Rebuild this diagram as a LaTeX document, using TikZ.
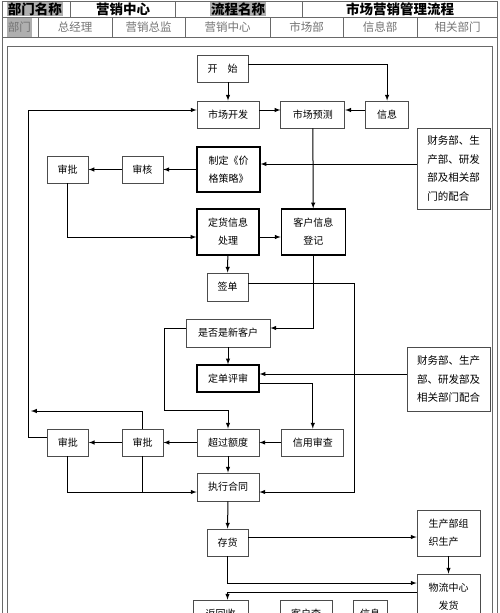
\documentclass[tikz,border=0pt]{standalone}
\usepackage{fontspec}
\setmainfont{Noto Sans CJK SC}
\usepackage{tikz}
\usepackage{color}
\definecolor{shade}{RGB}{175,175,175}
\definecolor{rulegray}{RGB}{105,105,105}
\usetikzlibrary{arrows,positioning}
\tikzset{block/.style={rectangle, draw=black!70, line width=0.8pt, fill=white, inner sep=0pt, align=center,
 minimum height=27pt, font=\fontsize{10}{18}\selectfont}}
\tikzset{heavy/.style={block, draw=black, line width=1.3pt}}
\tikzset{coop/.style={block, align=left, font=\fontsize{10.5}{18.5}\selectfont}}
\tikzset{head/.style={inner sep=1pt, font=\bfseries\fontsize{13.5}{14}\selectfont}}
\tikzset{cell/.style={inner sep=1pt, text=black!55, font=\fontsize{11.5}{12}\selectfont}}
\tikzset{tableline/.style={draw=rulegray, line width=0.8pt}}
\tikzset{line/.style={draw, -latex, line width=1pt}}
\begin{document}
\begin{tikzpicture}[x=1pt, y=-1pt]
        \useasboundingbox (0,0) rectangle (500,613);
        % header table
        \draw[tableline] (2,1) rectangle (497,640);
        \draw[tableline] (2,17) -- (497,17);
        \draw[tableline] (2,37) -- (497,37);
        \foreach \x in {70,175,302} \draw[tableline] (\x,1) -- (\x,17);
        \foreach \x in {38,112,185,270,343,417} \draw[tableline] (\x,17) -- (\x,37);
        \draw[tableline] (7,46) rectangle (492,640);

        \node[head, fill=shade] (hdept) at (35,9) {部门名称};
        \node[head] (hcenter) at (123,9) {营销中心};
        \node[head, fill=shade] (hflow) at (238,9) {流程名称};
        \node[head] (htitle) at (400,9) {市场营销管理流程};

        \node[cell, fill=shade, minimum height=19pt] (cdept) at (19.5,27) {部门};
        \node[cell] (cgm) at (75,27) {总经理};
        \node[cell] (cdir) at (148.5,27) {营销总监};
        \node[cell] (ccenter) at (227.5,27) {营销中心};
        \node[cell] (cmkt) at (306.5,27) {市场部};
        \node[cell] (cinfo) at (380,27) {信息部};
        \node[cell] (crel) at (457.5,27) {相关部门};

        % flow
        \node[block, minimum width=51pt] (start) at (222.5,68.5) {开\quad 始};
        \node[block, minimum width=62pt] (mkt) at (228,114.5) {市场开发};
        \node[block, minimum width=64pt, right=21pt of mkt] (fore) {市场预测};
        \node[block, minimum width=43pt, right=20pt of fore] (info) {信息};
        \node[coop, minimum width=73pt, minimum height=81pt] (coopa) at (453.5,168.5) {财务部、生\\产部、研发\\部及相关部\\门的配合};
        \node[heavy, minimum width=63pt, minimum height=45pt] (price) at (228.5,169.5) {制定《价\\格策略》};
        \node[block, minimum width=41pt, left=33pt of price] (check) {审核};
        \node[block, minimum width=41pt, left=33pt of check] (apra) {审批};
        \node[heavy, minimum width=62pt, minimum height=46pt] (order) at (228,232) {定货信息\\处理};
        \node[heavy, minimum width=64pt, minimum height=46pt, right=21pt of order] (cust) {客户信息\\登记};
        \node[block, minimum width=41pt, minimum height=28pt] (sign) at (227.5,287) {签单};
        \node[block, minimum width=84pt, minimum height=28pt] (new) at (228,333) {是否是新客户};
        \node[heavy, minimum width=62pt] (review) at (228,378.5) {定单评审};
        \node[coop, minimum width=83pt, minimum height=64pt] (coopb) at (448.5,379) {财务部、生产\\部、研发部及\\相关部门配合};
        \node[block, minimum width=62pt] (limit) at (228,442.5) {超过额度};
        \node[block, minimum width=62pt, right=22pt of limit] (credit) {信用审查};
        \node[block, minimum width=41pt, left=33pt of limit] (aprb) {审批};
        \node[block, minimum width=41pt, left=33pt of aprb] (aprc) {审批};
        \node[block, minimum width=62pt, minimum height=28pt] (exec) at (228,487) {执行合同};
        \node[block, minimum width=41pt] (stock) at (227.5,542.5) {存货};
        \node[coop, minimum width=63pt, minimum height=46pt, font=\fontsize{10}{18}\selectfont] (prod) at (448.5,533) {生产部组\\织生产};
        \node[block, minimum width=63pt, minimum height=46pt] (ship) at (448.5,597) {物流中心\\发货};
        \node[block, minimum width=55pt] (back) at (220.5,613.5) {返回收};
        \node[block, minimum width=52pt] (query) at (306,613.5) {客户查};
        \node[block, minimum width=34pt] (news) at (370,613.5) {信息};

        \coordinate (rail) at (354,492);
        \coordinate (leftrail) at (28,0);
        \coordinate (lefttip) at (31,411);
        \coordinate (bypass) at (164,410);
        \coordinate (mkte) at ([yshift=4.5pt]mkt.east);
        \coordinate (mktw) at ([yshift=4.5pt]mkt.west);
        \coordinate (infow) at ([yshift=4.5pt]info.west);
        \coordinate (coopaw) at ([yshift=4.5pt]coopa.west);
        \coordinate (orderin) at ([yshift=-5pt]order.east);
        \coordinate (coopbw) at ([yshift=5pt]coopb.west);
        \coordinate (execw) at ([yshift=-5pt]exec.west);
        \coordinate (stocke) at ([yshift=5.5pt]stock.east);

        \path[line] ([yshift=4.5pt]start.east) -| (info.north);
        \path[line] (start.south -| mkt.north) -- (mkt.north);
        \path[line] (mkte) -- (mkte -| fore.west);
        \path[line] (infow) -- (infow -| fore.east);
        \path[line] (fore) -- (cust);
        \path[line] (coopaw) -- (coopaw -| price.east);
        \path[line] (price) -- (check);
        \path[line] (check) -- (apra);
        \path[line] (apra.south) |- (orderin -| order.west);
        \path[line] (orderin) -- (orderin -| cust.west);
        \path[line] (order) -- (sign);
        \path[line] ([yshift=4pt]sign.east) -| (rail) -- (rail -| exec.east);
        \path[line] (cust.south) |- ([yshift=5pt]new.east);
        \path[line] (new) -- (review);
        \path[line] ([yshift=5pt]new.west) -| (bypass) -| (limit.north);
        \path[line] (coopbw) -- (coopbw -| review.east);
        \path[line] ([yshift=-4.5pt]review.east) -| (credit.north);
        \path[line] (credit) -- (limit);
        \path[line] (limit) -- (aprb);
        \path[line] (aprb) -- (aprc);
        \path[line] (limit) -- (exec);
        \path[line] (aprc.south) |- (execw);
        \path[draw, line width=1pt] (aprb.south) -- (aprb.south |- execw);
        \path[line] ([yshift=5pt]aprc.west) -| (leftrail |- mktw) -- (mktw);
        \path[line] (aprb.north) |- (lefttip);
        \path[line] (exec) -- (stock);
        \path[line] (stocke) -- (stocke -| prod.west);
        \path[line] (prod) -- (ship);
        \path[line] (stock.south) |- ([yshift=14pt]ship.west);
        \path[line] ([yshift=5pt]ship.west) -| (back.north -| stock.south);

      \end{tikzpicture}
\end{document}
